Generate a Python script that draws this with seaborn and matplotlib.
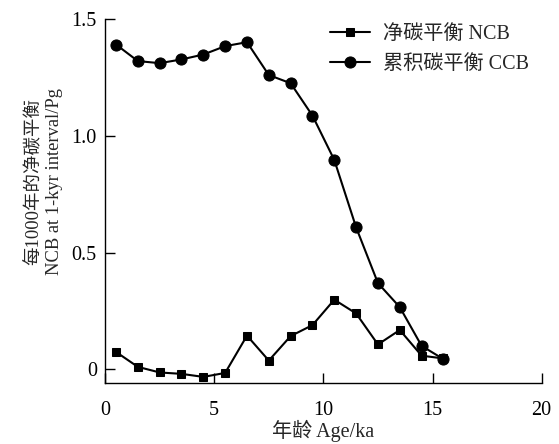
import matplotlib
matplotlib.use('Agg')
import matplotlib.pyplot as plt
import numpy as np
import pandas as pd
import seaborn as sns

sns.set_style('ticks')
plt.rcParams['font.family'] = ['Liberation Serif', 'Noto Sans CJK SC']
plt.rcParams['axes.unicode_minus'] = False

# Data
age = [0.5, 1.5, 2.5, 3.5, 4.5, 5.5, 6.5, 7.5, 8.5, 9.5, 10.5, 11.5, 12.5, 13.5, 14.5, 15.5]
ncb = [0.074, 0.010, -0.014, -0.020, -0.033, -0.016, 0.144, 0.037,
       0.142, 0.189, 0.298, 0.239, 0.106, 0.168, 0.058, 0.046]
ccb = [1.392, 1.321, 1.312, 1.328, 1.349, 1.385, 1.402, 1.261,
       1.226, 1.087, 0.897, 0.608, 0.369, 0.266, 0.100, 0.043]
x_ticks = [0, 5, 10, 15, 20]
y_ticks = [0, 0.5, 1.0, 1.5]
y_tick_labels = ['0', '0.5', '1.0', '1.5']

df = pd.DataFrame({'age': age, 'ncb': ncb, 'ccb': ccb})

fig = plt.figure(figsize=(5.59, 4.44), dpi=100)
ax = fig.add_axes([0.188, 0.138, 0.781, 0.8185])

sns.lineplot(data=df, x='age', y='ncb', ax=ax, color='black', lw=1.5,
             marker='s', markersize=6, markeredgecolor='black',
             label='净碳平衡 NCB')
sns.lineplot(data=df, x='age', y='ccb', ax=ax, color='black', lw=1.5,
             marker='o', markersize=8, markeredgecolor='black',
             label='累积碳平衡 CCB')

ax.set_xlim(0, 20)
ax.set_ylim(-0.058, 1.5)
ax.set_xticks(x_ticks)
ax.set_yticks(y_ticks)
ax.set_yticklabels(y_tick_labels)
ax.tick_params(direction='in', length=7, width=1, labelsize=14.5, colors='black')
ax.tick_params(axis='x', pad=13)
ax.tick_params(axis='y', pad=6)
for s in ['top', 'right']:
    ax.spines[s].set_visible(False)
for s in ['left', 'bottom']:
    ax.spines[s].set_linewidth(1)
    ax.spines[s].set_color('black')

ax.set_xlabel('年龄 Age/ka', fontsize=14.5, labelpad=0)
ax.set_ylabel('每1000年的净碳平衡\nNCB at 1-kyr interval/Pg', fontsize=13.3,
              linespacing=1.3)
ax.yaxis.set_label_coords(-0.096, 0.553)

ax.legend(loc='upper left', frameon=False, fontsize=14.5, handlelength=2.0,
          handletextpad=0.65, borderpad=0, borderaxespad=0, labelspacing=0.55,
          bbox_to_anchor=(330 / 559, 1 - 25 / 444), bbox_transform=fig.transFigure)

fig.savefig('out.png', dpi=100)
